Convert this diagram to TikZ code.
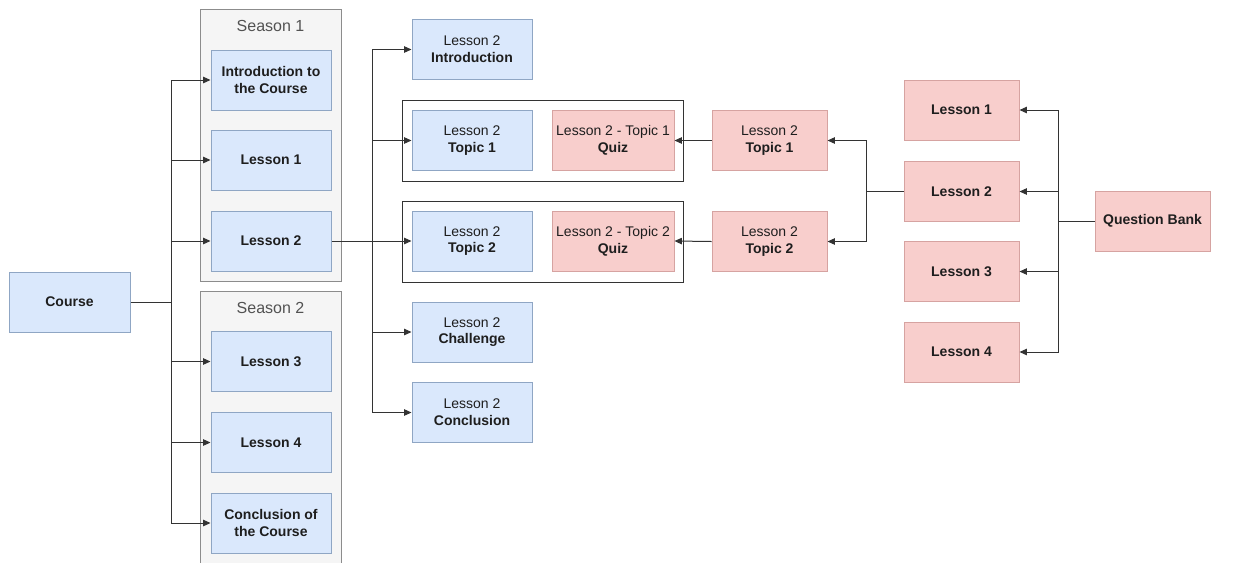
\documentclass[tikz,border=0pt]{standalone}
\usepackage{fontspec}
\setmainfont{Liberation Sans}
\usetikzlibrary{arrows.meta}
\definecolor{bluefill}{HTML}{DAE8FC}
\definecolor{bluedraw}{HTML}{8FA6C4}
\definecolor{redfill}{HTML}{F8CECC}
\definecolor{reddraw}{HTML}{D6A3A1}
\definecolor{seasonfill}{HTML}{F5F5F5}
\definecolor{seasondraw}{HTML}{8C8C8C}
\definecolor{linecol}{HTML}{333333}
\definecolor{txt}{HTML}{1E1E1E}
\tikzset{
  bluebox/.style={draw=bluedraw, fill=bluefill, line width=0.75pt, minimum width=90pt,
    minimum height=45pt, inner sep=0pt, align=center, text=txt, font=\fontsize{10.5}{12.5}\selectfont},
  redbox/.style={bluebox, draw=reddraw, fill=redfill, minimum width=86.25pt},
  quizbox/.style={redbox, minimum width=91.5pt},
  season/.style={draw=seasondraw, fill=seasonfill, line width=0.75pt},
  groupbox/.style={draw=linecol, line width=0.75pt},
  seasontitle/.style={text=black!68, font=\fontsize{12}{14}\selectfont},
  arr/.style={draw=linecol, line width=0.75pt, -{Triangle[length=5.5pt,width=4.8pt]}},
  plain/.style={draw=linecol, line width=0.75pt}
}
\begin{document}
\begin{tikzpicture}[x=0.75pt, y=-0.75pt]
\useasboundingbox (0,0) rectangle (1239,562);

% season containers
\draw[season] (200,9) rectangle (341,281);
\node[seasontitle] (s1) at (270.5,26) {Season 1};
\draw[season] (200,291) rectangle (341,563);
\node[seasontitle] (s2) at (270.5,308) {Season 2};

% quiz groups
\draw[groupbox] (402,100) rectangle (683,181);
\draw[groupbox] (402,201) rectangle (683,282);

% course structure
\node[bluebox, minimum width=90.75pt] (course) at (69.5,302) {\textbf{Course}};
\node[bluebox] (intro) at (271,80) {\textbf{Introduction to}\\\textbf{the Course}};
\node[bluebox] (l1) at (271,160) {\textbf{Lesson 1}};
\node[bluebox] (l2) at (271,241) {\textbf{Lesson 2}};
\node[bluebox] (l3) at (271,361.5) {\textbf{Lesson 3}};
\node[bluebox] (l4) at (271,442.5) {\textbf{Lesson 4}};
\node[bluebox] (concl) at (271,523) {\textbf{Conclusion of}\\\textbf{the Course}};

% lesson 2 parts
\node[bluebox] (lintro) at (472,49.5) {Lesson 2\\\textbf{Introduction}};
\node[bluebox] (top1) at (472,140.5) {Lesson 2\\\textbf{Topic 1}};
\node[bluebox] (top2) at (472,241) {Lesson 2\\\textbf{Topic 2}};
\node[bluebox] (chal) at (472,332) {Lesson 2\\\textbf{Challenge}};
\node[bluebox] (lconc) at (472,412.5) {Lesson 2\\\textbf{Conclusion}};
\node[quizbox] (quiz1) at (613,140.5) {Lesson 2 - Topic 1\\\textbf{Quiz}};
\node[quizbox] (quiz2) at (613,241) {Lesson 2 - Topic 2\\\textbf{Quiz}};

% question bank
\node[redbox] (qt1) at (769.5,140.5) {Lesson 2\\\textbf{Topic 1}};
\node[redbox] (qt2) at (769.5,241.5) {Lesson 2\\\textbf{Topic 2}};
\node[redbox] (ql1) at (961.5,110) {\textbf{Lesson 1}};
\node[redbox] (ql2) at (961.5,191.5) {\textbf{Lesson 2}};
\node[redbox] (ql3) at (961.5,271.5) {\textbf{Lesson 3}};
\node[redbox] (ql4) at (961.5,352) {\textbf{Lesson 4}};
\node[redbox] (qb) at (1152.5,221) {\textbf{Question Bank}};

% branch columns
\coordinate (ja) at (171,0);
\coordinate (jb) at (372,0);
\coordinate (jc) at (866,0);
\coordinate (jd) at (1058,0);

% course -> lessons
\draw[plain] (course.east) -- (course.east -| ja);
\foreach \t in {intro,l1,l2,l3,l4,concl}
  \draw[arr] (course.east -| ja) |- (\t.west);

% lesson 2 -> parts
\draw[arr] (l2.east) -- (top2.west);
\foreach \t in {lintro,top1,chal,lconc}
  \draw[arr] (l2.east -| jb) |- (\t.west);

% question bank -> lessons
\draw[plain] (qb.west) -- (qb.west -| jd);
\foreach \t in {ql1,ql2,ql3,ql4}
  \draw[arr] (qb.west -| jd) |- (\t.east);

% lesson 2 bank -> topics -> quizzes
\draw[plain] (ql2.west) -- (ql2.west -| jc);
\foreach \t in {qt1,qt2}
  \draw[arr] (ql2.west -| jc) |- (\t.east);
\draw[arr] (qt1.west) -- (quiz1.east);
\draw[arr] (qt2.west) -- (quiz2.east);
\end{tikzpicture}
\end{document}
